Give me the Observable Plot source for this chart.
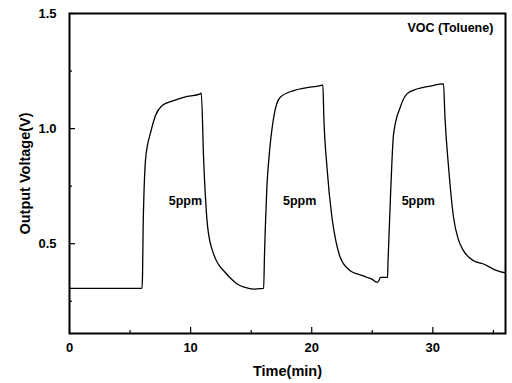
<!DOCTYPE html>
<html>
<head>
<meta charset="utf-8">
<script src="https://cdn.jsdelivr.net/npm/d3@7"></script>
<script src="https://cdn.jsdelivr.net/npm/@observablehq/plot@0.6"></script>
<style>
  body { margin: 0; background: #fff; }
  svg { font-family: "Liberation Sans", Arial, sans-serif; font-weight: bold; }
</style>
</head>
<body>
<div id="chart"></div>
<script>
const timeMin = [0, 2, 4, 5.98, 6.03, 6.08, 6.15, 6.27, 6.45, 6.68, 7.1, 7.65, 8.6, 9.5, 10.8, 10.88,
  11.08, 11.41, 11.9, 12.3, 12.73, 13.3, 13.84, 14.5, 15.2, 15.7, 16.03,
  16.1, 16.17, 16.3, 16.45, 16.86, 17.4, 18.5, 19.5, 20.7, 20.92,
  21.0, 21.26, 21.67, 22.0, 22.36, 23.18, 24.0, 24.56, 25.0, 25.39, 25.55, 25.66, 26.26,
  26.3, 26.49, 26.76, 27.31, 27.86, 28.68, 29.8, 30.88,
  31.0, 31.3, 31.71, 32.1, 32.53, 33.36, 34.18, 34.74, 35.2, 35.84, 36];
const voltage = [0.306, 0.306, 0.306, 0.306, 0.36, 0.57, 0.72, 0.86, 0.93, 0.98, 1.057, 1.10, 1.122, 1.137, 1.151, 1.155,
  0.86, 0.571, 0.455, 0.41, 0.383, 0.35, 0.325, 0.31, 0.303, 0.305, 0.306,
  0.45, 0.571, 0.75, 0.861, 1.049, 1.136, 1.165, 1.177, 1.187, 1.19,
  1.05, 0.832, 0.614, 0.51, 0.44, 0.383, 0.365, 0.354, 0.345, 0.332, 0.34, 0.354, 0.354,
  0.42, 0.687, 0.977, 1.093, 1.151, 1.172, 1.185, 1.194,
  1.05, 0.832, 0.614, 0.52, 0.47, 0.426, 0.412, 0.397, 0.385, 0.375, 0.374];

const xDomain = [0, 36];
const yDomain = [0.11, 1.5];
const xMajorTicks = [0, 10, 20, 30];
const xMinorTicks = [5, 15, 25, 35];
const yMajorTicks = [0.5, 1.0, 1.5];
const yMinorTicks = [0.25, 0.75, 1.25];

const annotations = [
  {t: 9.57, v: 0.687, label: "5ppm"},
  {t: 19.0, v: 0.687, label: "5ppm"},
  {t: 28.8, v: 0.687, label: "5ppm"}
];
const legendTitle = {t: 35.0, v: 1.435, label: "VOC (Toluene)"};

const data = timeMin.map((t, i) => ({t, v: voltage[i]}));

const W = 512, H = 383, mL = 69, mR = 7, mT = 13, mB = 50;
const plotW = W - mL - mR, plotH = H - mT - mB;

const chart = Plot.plot({
  width: W,
  height: H,
  marginLeft: mL,
  marginRight: mR,
  marginTop: mT,
  marginBottom: mB,
  style: {fontSize: "13px", fontWeight: "bold", background: "#fff", color: "#000"},
  x: {domain: xDomain},
  y: {domain: yDomain},
  marks: [
    Plot.axisX(xMajorTicks, {tickSize: 0, tickPadding: 9, fontSize: 13, label: "Time(min)", labelAnchor: "center", labelOffset: 42, labelArrow: "none", tickFormat: d3.format("d")}),
    Plot.axisY(yMajorTicks, {tickSize: 0, tickPadding: 13, fontSize: 13, label: "Output Voltage(V)", labelAnchor: "center", labelOffset: 50, labelArrow: "none", tickFormat: d3.format(".1f")}),
    Plot.ruleX(xMajorTicks, {x: d => d, insetTop: plotH - 6, stroke: "#000", strokeWidth: 1.2}),
    Plot.ruleX(xMinorTicks, {x: d => d, insetTop: plotH - 3, stroke: "#000", strokeWidth: 1.2}),
    Plot.ruleY(yMajorTicks, {y: d => d, insetRight: plotW - 6, stroke: "#000", strokeWidth: 1.2}),
    Plot.ruleY(yMinorTicks, {y: d => d, insetRight: plotW - 3, stroke: "#000", strokeWidth: 1.2}),
    Plot.frame({stroke: "#000", strokeWidth: 2}),
    Plot.line(data, {x: "t", y: "v", stroke: "#000", strokeWidth: 1.3, curve: "monotone-x"}),
    Plot.text(annotations, {x: "t", y: "v", text: "label", fontSize: 12.5, fontWeight: "bold", fill: "#000"}),
    Plot.text([legendTitle], {x: "t", y: "v", text: "label", textAnchor: "end", fontSize: 12.5, fontWeight: "bold", fill: "#000"})
  ]
});
chart.querySelectorAll("[aria-label='x-axis label'] text, [aria-label='y-axis label'] text").forEach(t => t.setAttribute("font-size", "14.5"));
document.getElementById("chart").appendChild(chart);
</script>
</body>
</html>
